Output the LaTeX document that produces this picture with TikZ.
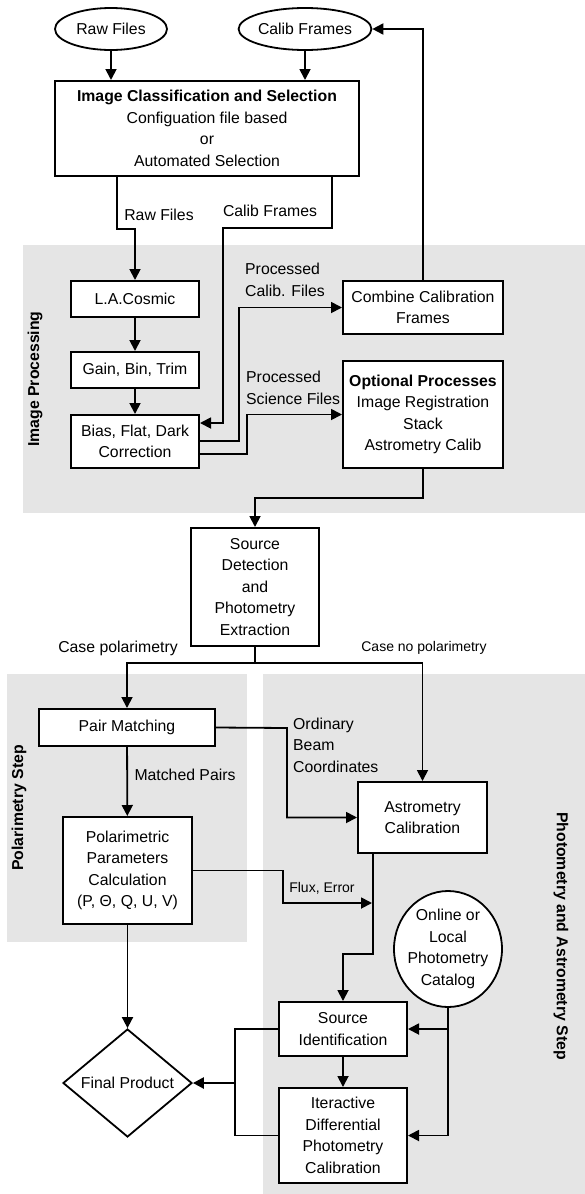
\documentclass[tikz,border=0pt]{standalone}
\usepackage{fontspec}
\setmainfont{Liberation Sans}
\usetikzlibrary{arrows.meta,shapes.geometric}
\begin{document}
\begin{tikzpicture}[x=1pt,y=-1pt,
 font=\fontsize{15.8}{21.5}\selectfont,
 box/.style={draw, line width=2pt, fill=white, align=center, inner sep=0pt, rectangle},
 ell/.style={draw, line width=1.8pt, fill=white, ellipse, align=center, inner sep=0pt},
 arr/.style={line width=1.8pt, -{Triangle[length=11pt,width=11pt]}},
 ln/.style={line width=1.8pt},
 lbl/.style={inner sep=0pt, align=left},
 small/.style={font=\fontsize{14}{17}\selectfont, inner sep=0pt},
 panel/.style={fill=black!10, draw=none},
 ptitle/.style={font=\fontsize{15.8}{19}\selectfont\bfseries, inner sep=0pt}
]
\useasboundingbox (0,0) rectangle (585,1194);
\fill[white] (0,0) rectangle (585,1194);
% panels
\fill[panel] (23,245) rectangle (585,513);
\fill[panel] (7,674) rectangle (247,942);
\fill[panel] (263,674) rectangle (585,1194);
\node[ptitle, rotate=90] (tip) at (35,379) {Image Processing};
\node[ptitle, rotate=90] (tps) at (19,808) {Polarimetry Step};
\node[ptitle, rotate=-90] (tpa) at (561,936) {Photometry and Astrometry Step};

% nodes
\node[ell, minimum width=112pt, minimum height=42pt] (raw) at (111,29) {Raw Files};
\node[ell, minimum width=115pt, minimum height=42pt] (calib) at (305,29) {Calib Frames};
\node[box, minimum width=304pt, minimum height=95pt] (icas) at (207,128.5)
  {\textbf{Image Classification and Selection}\\Configuation file based\\or\\Automated Selection};
\node[box, minimum width=128pt, minimum height=36pt] (lac) at (135,299) {L.A.Cosmic};
\node[box, minimum width=128pt, minimum height=36pt] (gbt) at (135,370) {Gain, Bin, Trim};
\node[box, minimum width=128pt, minimum height=53pt] (bfd) at (135,441.5) {Bias, Flat, Dark\\Correction};
\node[box, minimum width=160pt, minimum height=53pt] (ccf) at (423,307.5) {Combine Calibration\\Frames};
\node[box, minimum width=160pt, minimum height=107pt] (opt) at (423,414.5)
  {\textbf{Optional Processes}\\Image Registration\\Stack\\Astrometry Calib};
\node[box, minimum width=128pt, minimum height=118pt] (sde) at (255,587)
  {Source\\Detection\\and\\Photometry\\Extraction};
\node[box, minimum width=176pt, minimum height=37pt] (pm) at (127,727.5) {Pair Matching};
\node[box, minimum width=129pt, minimum height=107pt] (ppc) at (127.5,870.5)
  {Polarimetric\\Parameters\\Calculation\\(P, Θ, Q, U, V)};
\node[box, minimum width=129pt, minimum height=71pt] (ac) at (422.5,817.5) {Astrometry\\Calibration};
\node[ell, inner sep=-3pt, minimum width=108pt, minimum height=116pt] (cat) at (448,949)
  {Online or\\Local\\Photometry\\Catalog};
\node[box, minimum width=128pt, minimum height=54pt] (sid) at (343,1029) {Source\\Identification};
\node[box, minimum width=128pt, minimum height=95pt] (idp) at (343,1135.5)
  {Iteractive\\Differential\\Photometry\\Calibration};
\node[draw, diamond, line width=1.8pt, fill=white, inner sep=0pt, shape aspect=1.2,
  minimum width=129pt, minimum height=108pt] (fp) at (127.5,1083) {Final Product};

% helper coordinates
\coordinate (r1) at (117,229);
\coordinate (c1) at (332,228);
\coordinate (c2) at (223,423);
\coordinate (p1) at (239,441);
\coordinate (p2) at (247,454);
\coordinate (o1) at (255,498);
\coordinate (s1) at (255,663);
\coordinate (m1) at (287,728);
\coordinate (f1) at (283,903);
\coordinate (f2) at (372,903);
\coordinate (a1) at (373,954);
\coordinate (k1) at (448,1029);
\coordinate (l1) at (235,1029);
\coordinate (l2) at (235,1083);

% connectors
\draw[arr] (raw.south) -- (raw.south |- icas.north);
\draw[arr] (calib.south) -- (calib.south |- icas.north);
\draw[arr] (ccf.north) |- (calib.east);
\draw[arr] (r1 |- icas.south) -- (r1) -| (lac.north);
\draw[arr] (c1 |- icas.south) -- (c1) -| (c2) -- (c2 -| bfd.east);
\draw[arr] (lac) -- (gbt);
\draw[arr] (gbt) -- (bfd);
\draw[arr] (p1 -| bfd.east) -- (p1) |- (ccf.west);
\draw[arr] (p2 -| bfd.east) -- (p2) |- (opt.west);
\draw[arr] (opt.south) |- (o1) -- (sde.north);
\draw[ln] (sde.south) -- (s1);
\draw[arr] (s1) -| (pm.north);
\draw[arr] (s1) -| (ac.north);
\draw[arr] (pm) -- (ppc);
\draw[arr] (pm.east) -- (m1) |- (ac.west);
\draw[arr] (ppc.east) -| (f1) -- (f2);
\draw[arr] (a1 |- ac.south) -- (a1) -| (sid.north);
\draw[arr] (sid) -- (idp);
\draw[arr] (cat.south) |- (idp.east);
\draw[arr] (k1) -- (sid.east);
\draw[ln] (sid.west) -- (l1) |- (idp.west);
\draw[arr, line width=2.4pt] (l2) -- (fp.east);
\draw[arr] (ppc) -- (fp);

% labels
\node[lbl] (lraw) at (159,215) {Raw Files};
\node[lbl] (lcal) at (270,211) {Calib Frames};
\node[lbl, anchor=west] (lpc) at (245,280) {Processed\\Calib. Files};
\node[lbl, anchor=west] (lps) at (246,388) {Processed\\Science Files};
\node[lbl] (lcp) at (118,648) {Case polarimetry};
\node[small] (lcn) at (424,648) {Case no polarimetry};
\node[lbl] (lmp) at (185,775) {Matched Pairs};
\node[lbl, anchor=west] (lob) at (293,745) {Ordinary\\Beam\\Coordinates};
\node[small] (lfe) at (322,888) {Flux, Error};
\end{tikzpicture}
\end{document}
